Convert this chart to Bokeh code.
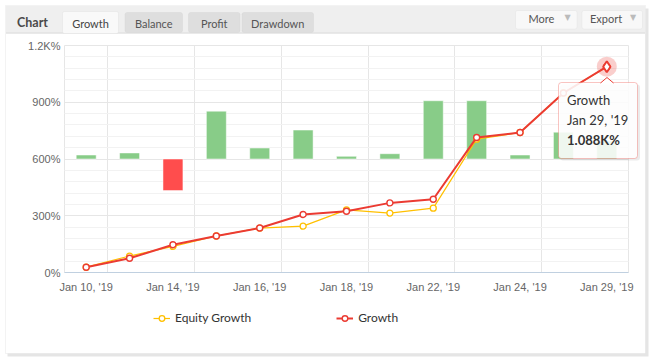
from bokeh.plotting import figure
from bokeh.models import (Range1d, FixedTicker, BoxAnnotation, Label, Legend,
                          LegendItem, PolyAnnotation, Arrow)
from bokeh.embed import file_html
from bokeh.resources import INLINE

# ---------------- data ----------------
DATES = ["Jan 10, '19", "Jan 11, '19", "Jan 14, '19", "Jan 15, '19", "Jan 16, '19",
         "Jan 17, '19", "Jan 18, '19", "Jan 21, '19", "Jan 22, '19", "Jan 23, '19",
         "Jan 24, '19", "Jan 25, '19", "Jan 29, '19"]
GROWTH = [28, 75, 147, 193, 235, 307, 324, 368, 387, 714, 740, 949, 1088]
EQUITY = [28, 87, 138, 193, 235, 245, 331, 314, 340, 705, 740, 949, 1088]
DAILY = [21, 32, -167, 253, 58, 153, 14, 28, 308, 308, 21, 142, 95]
Y_TICKS = [0, 300, 600, 900, 1200]
Y_TICK_LABELS = ["0%", "300%", "600%", "900%", "1.2K%"]
TABS = ["Growth", "Balance", "Profit", "Drawdown"]
BUTTONS = ["More", "Export"]
SERIES = ["Equity Growth", "Growth"]

# ---------------- style / layout ----------------
RED = "#eb3b32"
YELLOW = "#ffc000"
BAR_UP = "#88cc88"
BAR_DOWN = "#ff4d4d"
UI_FONT = "Lato"
AX_FONT = "Liberation Sans"

W, H = 652, 362
PLOT_L, PLOT_R, PLOT_T, PLOT_B = 64, 628, 45, 272   # data area on the page
BAR_BASE = 600                                       # level the columns grow from
TXT_DY = 5                                           # baseline correction for labels

n = len(DATES)
idx = list(range(n))
x0, x1 = -0.5, n - 0.5
y0, y1 = Y_TICKS[0], Y_TICKS[-1]
kx = (PLOT_R - PLOT_L) / (x1 - x0)
ky = (PLOT_B - PLOT_T) / (y1 - y0)
x_range = Range1d(x0 - PLOT_L / kx, x1 + (W - PLOT_R) / kx)
y_range = Range1d(y0 - (H - PLOT_B) / ky, y1 + PLOT_T / ky)


def sx(px):
    return px


def sy(py):
    return H - py


p = figure(width=W, height=H, x_range=x_range, y_range=y_range,
           output_backend="svg", toolbar_location=None,
           min_border=0, min_border_left=0, min_border_right=0,
           min_border_top=0, min_border_bottom=0)
p.extra_y_ranges = {"bars": Range1d(y_range.start - BAR_BASE, y_range.end - BAR_BASE)}
p.outline_line_color = None
p.background_fill_color = "white"
p.border_fill_color = "white"

# axes (drawn at fixed data locations)
p.xaxis.fixed_location = y0
p.xaxis.bounds = (x0, x1)
p.xaxis.ticker = FixedTicker(ticks=idx[::2])
p.xaxis.major_label_overrides = {i: DATES[i] for i in idx[::2]}
p.xaxis.axis_line_color = "#c0d0e0"
p.xaxis.major_tick_out = 0
p.xaxis.major_tick_in = 0
p.xaxis.minor_tick_out = 0
p.xaxis.minor_tick_in = 0
p.xaxis.major_label_standoff = 8
p.xaxis.major_label_text_font = AX_FONT
p.xaxis.major_label_text_font_size = "11px"
p.xaxis.major_label_text_color = "#666666"

minor = [v for v in range(y0, y1 + 1, 60) if v not in Y_TICKS]
p.yaxis.fixed_location = x0
p.yaxis.bounds = (y0, y1)
p.yaxis.ticker = FixedTicker(ticks=Y_TICKS, minor_ticks=minor)
p.yaxis.major_label_overrides = dict(zip(Y_TICKS, Y_TICK_LABELS))
p.yaxis.axis_line_color = None
p.yaxis.major_tick_out = 0
p.yaxis.major_tick_in = 0
p.yaxis.minor_tick_out = 0
p.yaxis.minor_tick_in = 0
p.yaxis.major_label_standoff = 4
p.yaxis.major_label_text_font = AX_FONT
p.yaxis.major_label_text_font_size = "11px"
p.yaxis.major_label_text_color = "#666666"

# grids
p.xgrid.ticker = FixedTicker(ticks=[x0] + [i + 0.5 for i in idx[::2]])
p.xgrid.cross_bounds = (y0, y1)
p.xgrid.grid_line_color = "#e6e6e6"
p.ygrid.ticker = FixedTicker(ticks=Y_TICKS, minor_ticks=minor)
p.ygrid.cross_bounds = (x0, x1)
p.ygrid.grid_line_color = "#e6e6e6"
p.ygrid.minor_grid_line_color = "#f2f2f2"


# ---------------- chrome ----------------
def box(l, r, t, b, fill, line=None, alpha=1.0, radius=0, level="underlay"):
    bx = BoxAnnotation(left=sx(l), right=sx(r), top=sy(t), bottom=sy(b),
                       left_units="screen", right_units="screen",
                       top_units="screen", bottom_units="screen",
                       fill_color=fill, fill_alpha=alpha,
                       line_color=line, line_width=1, border_radius=radius,
                       level=level, editable=False)
    p.add_layout(bx)
    return bx


def label(x, y, text, size="12px", color="#333333", font=UI_FONT, style="normal",
          align="left", level="annotation"):
    lb = Label(x=sx(x), y=sy(y - TXT_DY), text=text, x_units="screen",
               y_units="screen", text_font=font, text_font_size=size,
               text_color=color, text_font_style=style, text_align=align,
               text_baseline="alphabetic", level=level)
    p.add_layout(lb)
    return lb


box(7, 648, 8, 356, "#000000", alpha=0.10, level="image")       # card shadow
box(5, 645, 5, 353, "white", line="#d6d6d6", level="image")      # card
box(5.5, 644.5, 5.5, 32, "#efefef")                              # header bar
box(5.5, 644.5, 32, 33, "#d4d4d4")                               # header divider

label(16.5, 26.7, "Chart", size="12.5px", color="#4a4a4a", style="bold")

TAB_X = [(62, 118), (124.5, 182), (188, 239.5), (241.5, 313)]
for i, (name, (l, r)) in enumerate(zip(TABS, TAB_X)):
    if i == 0:
        box(l, r, 11, 33, "#f9f9f9", line="#d6d6d6", radius=2)
        label((l + r) / 2, 27.5, name, size="11px", color="#444444", align="center")
    else:
        box(l, r, 12, 32, "#dedede", line="#d0d0d0", radius=2)
        label((l + r) / 2, 27.5, name, size="11px", color="#555555", align="center")

BTN_X = [(515, 576.5), (581.5, 642)]
BTN_TEXT_X = [528, 589.5]
for name, (l, r), tx in zip(BUTTONS, BTN_X, BTN_TEXT_X):
    box(l, r, 10, 28.5, "#f8f8f8", line="#dcdcdc", radius=2)
    label(tx, 23.3, name, size="11px", color="#555555")
    label(r - 9.5, 22, "\u25BC", size="8px", color="#bbbbbb", font="DejaVu Sans",
          align="center")

# ---------------- data glyphs ----------------
bar_colors = [BAR_UP if v >= 0 else BAR_DOWN for v in DAILY]
p.vbar(x=idx, top=DAILY, bottom=0, width=0.46, y_range_name="bars",
       fill_color=bar_colors, line_color="white", line_alpha=0.5)

eq_line = p.line(idx, EQUITY, line_color=YELLOW, line_width=1.2)
eq_pts = p.scatter(idx, EQUITY, size=6, fill_color="white", line_color=YELLOW,
                   line_width=1.3)
g_line = p.line(idx, GROWTH, line_color=RED, line_width=2)
g_pts = p.scatter(idx, GROWTH, size=6, fill_color="white", line_color=RED,
                  line_width=1.4)

last = n - 1
p.scatter([last], [GROWTH[last]], size=20, fill_color=RED, fill_alpha=0.25,
          line_color=None)
p.scatter([last], [GROWTH[last]], marker="diamond", size=11, fill_color="white",
          line_color=RED, line_width=2)

# legend
legend = Legend(items=[LegendItem(label=SERIES[0], renderers=[eq_line, eq_pts]),
                       LegendItem(label=SERIES[1], renderers=[g_line, g_pts])],
                orientation="horizontal", location=(sx(153), sy(325)),
                glyph_width=17, glyph_height=14, label_height=14,
                label_standoff=5, spacing=85, padding=0, margin=0,
                border_line_color=None, background_fill_alpha=0,
                label_text_font=UI_FONT, label_text_font_size="12px",
                label_text_color="#333333")
p.add_layout(legend)

# ---------------- tooltip ----------------
box(559.5, 639.5, 84, 160, "#000000", alpha=0.08, radius=3, level="overlay")
box(558, 637, 82, 158, "white", line=RED, alpha=0.88, radius=3, level="overlay")
p.add_layout(PolyAnnotation(xs=[sx(600), sx(606.5), sx(613)],
                            ys=[sy(82.6), sy(77), sy(82.6)],
                            xs_units="screen", ys_units="screen",
                            fill_color="white", fill_alpha=1, line_color=None,
                            level="overlay", editable=False))
for ax0, ay0, ax1, ay1 in [(600, 82.5, 606.5, 77), (606.5, 77, 613, 82.5)]:
    p.add_layout(Arrow(x_start=sx(ax0), y_start=sy(ay0), x_end=sx(ax1), y_end=sy(ay1),
                       start_units="screen", end_units="screen", end=None,
                       start=None, line_color=RED, line_width=1, level="overlay"))

val = GROWTH[last] / 1000
label(566.5, 104, SERIES[1], size="13px", level="overlay")
label(566.5, 124, DATES[last], size="13px", level="overlay")
label(566.5, 144, f"{val:.3f}K%", size="13px", style="bold", level="overlay")

open("out.html", "w").write(file_html(p, INLINE))
